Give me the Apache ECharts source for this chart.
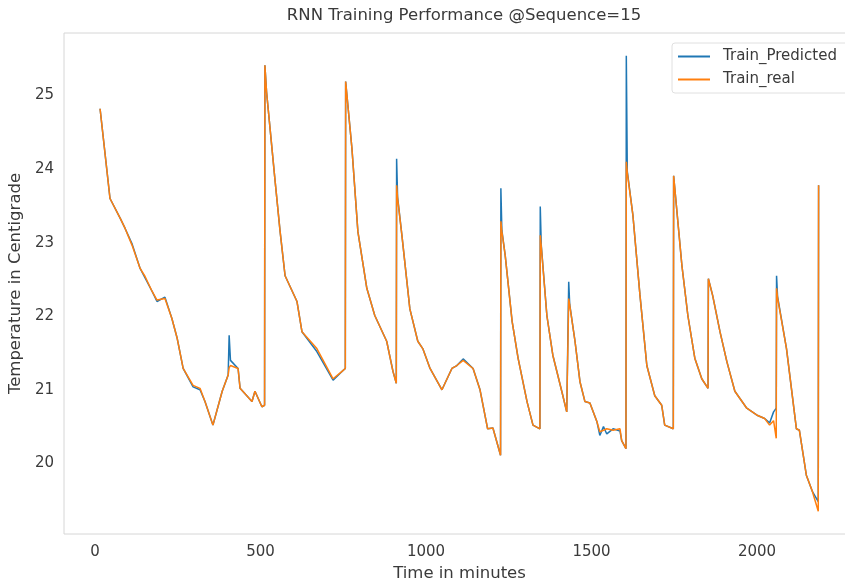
<!DOCTYPE html>
<html>
<head>
<meta charset="utf-8">
<script src="https://cdn.jsdelivr.net/npm/echarts@6/dist/echarts.min.js"></script>
<style>
  html, body { margin: 0; padding: 0; background: #fff; }
  #chart { width: 845px; height: 581px; }
</style>
</head>
<body>
<div id="chart"></div>
<script>
// minutes
const times = [15, 45, 76, 91, 112, 136, 151, 172, 187, 211, 232, 248, 266, 296, 317, 332, 356, 384, 402, 405, 409, 432, 438, 474, 483, 504, 512, 513, 518, 544, 559, 574, 610, 625, 670, 719, 746, 756, 757, 776, 794, 821, 845, 881, 900, 910, 911, 914, 927, 951, 975, 990, 1012, 1048, 1078, 1093, 1112, 1142, 1163, 1186, 1202, 1225, 1226, 1229, 1239, 1260, 1278, 1305, 1323, 1344, 1345, 1348, 1365, 1383, 1410, 1425, 1430, 1431, 1434, 1450, 1465, 1480, 1495, 1516, 1525, 1536, 1546, 1565, 1586, 1591, 1604, 1605, 1608, 1625, 1646, 1667, 1691, 1712, 1721, 1747, 1748, 1773, 1791, 1812, 1833, 1852, 1853, 1866, 1888, 1909, 1933, 1969, 2002, 2023, 2038, 2050, 2058, 2059, 2062, 2089, 2119, 2128, 2149, 2167, 2185, 2186]
const trainReal = [24.82, 23.60, 23.33, 23.19, 22.96, 22.65, 22.54, 22.34, 22.22, 22.24, 21.97, 21.70, 21.29, 21.06, 21.02, 20.84, 20.52, 20.98, 21.20, 21.30, 21.33, 21.29, 21.02, 20.84, 20.98, 20.77, 20.79, 25.41, 25.05, 23.83, 23.15, 22.55, 22.20, 21.79, 21.56, 21.15, 21.25, 21.29, 25.19, 24.28, 23.15, 22.38, 22.01, 21.66, 21.25, 21.09, 23.78, 23.60, 23.10, 22.10, 21.66, 21.56, 21.29, 21.00, 21.29, 21.33, 21.40, 21.29, 21.00, 20.47, 20.48, 20.11, 23.29, 23.15, 22.83, 21.93, 21.43, 20.84, 20.52, 20.47, 23.10, 22.95, 22.01, 21.47, 20.98, 20.70, 20.68, 22.24, 22.15, 21.66, 21.11, 20.84, 20.82, 20.57, 20.43, 20.45, 20.47, 20.45, 20.47, 20.31, 20.20, 24.10, 23.95, 23.37, 22.30, 21.33, 20.92, 20.79, 20.52, 20.47, 23.91, 22.69, 22.01, 21.43, 21.15, 21.02, 22.51, 22.28, 21.79, 21.38, 20.98, 20.75, 20.65, 20.61, 20.52, 20.58, 20.34, 22.38, 22.25, 21.56, 20.47, 20.45, 19.84, 19.62, 19.35, 23.78]
const trainPredicted = [24.82, 23.60, 23.33, 23.19, 22.98, 22.65, 22.52, 22.34, 22.20, 22.26, 21.97, 21.70, 21.29, 21.04, 21.00, 20.84, 20.52, 20.98, 21.20, 21.74, 21.40, 21.29, 21.02, 20.84, 20.98, 20.77, 20.79, 25.41, 25.05, 23.83, 23.15, 22.55, 22.20, 21.79, 21.52, 21.13, 21.25, 21.29, 25.19, 24.28, 23.15, 22.38, 22.01, 21.66, 21.25, 21.09, 24.14, 23.62, 23.10, 22.10, 21.66, 21.56, 21.29, 21.00, 21.29, 21.33, 21.42, 21.29, 21.00, 20.47, 20.48, 20.11, 23.74, 23.17, 22.83, 21.93, 21.43, 20.84, 20.52, 20.47, 23.49, 22.97, 22.01, 21.47, 20.98, 20.70, 20.68, 22.47, 22.16, 21.66, 21.11, 20.84, 20.82, 20.57, 20.38, 20.50, 20.40, 20.47, 20.44, 20.31, 20.20, 25.54, 23.97, 23.37, 22.30, 21.33, 20.92, 20.79, 20.52, 20.47, 23.91, 22.69, 22.01, 21.43, 21.15, 21.02, 22.51, 22.28, 21.79, 21.38, 20.98, 20.75, 20.65, 20.61, 20.55, 20.70, 20.75, 22.55, 22.27, 21.56, 20.47, 20.45, 19.84, 19.62, 19.48, 23.78]
const xTicks = [0, 500, 1000, 1500, 2000]
const yTicks = [20, 21, 22, 23, 24, 25]

const textColor = '#3a3a3a'
const font = 'DejaVu Sans'

function pairs (ys) {
  return times.map((t, i) => [t, ys[i]])
}

const chart = echarts.init(document.getElementById('chart'))
chart.setOption({
  animation: false,
  backgroundColor: '#fff',
  textStyle: { fontFamily: font, color: textColor },
  title: {
    text: 'RNN Training Performance @Sequence=15',
    left: 459,
    textAlign: 'center',
    top: 2,
    textStyle: { fontFamily: font, fontSize: 16.5, fontWeight: 'normal', color: textColor }
  },
  legend: {
    orient: 'vertical',
    left: 672,
    top: 43,
    padding: [6, 30, 6, 6],
    itemGap: 8,
    itemWidth: 32,
    itemHeight: 2,
    icon: 'rect',
    borderColor: '#e0e0e0',
    borderWidth: 1,
    borderRadius: 3,
    textStyle: { fontFamily: font, fontSize: 15, color: textColor, padding: [0, 0, 0, 8] },
    data: ['Train_Predicted', 'Train_real']
  },
  grid: {
    left: 64,
    top: 33,
    width: 791,
    height: 501,
    outerBoundsMode: 'none',
    containLabel: false,
    show: true,
    borderColor: '#d6d6d6',
    borderWidth: 1
  },
  xAxis: {
    type: 'value',
    min: -94,
    max: 2296,
    name: 'Time in minutes',
    nameLocation: 'middle',
    nameGap: 30,
    nameTextStyle: { fontFamily: font, fontSize: 16.5, color: textColor },
    axisLine: { show: false },
    axisTick: { show: false },
    splitLine: { show: false },
    axisLabel: {
      customValues: xTicks,
      margin: 11,
      fontSize: 15,
      color: textColor,
      fontFamily: font,
      formatter: v => String(v)
    }
  },
  yAxis: {
    type: 'value',
    min: 19.04,
    max: 25.85,
    name: 'Temperature in Centigrade',
    nameLocation: 'middle',
    nameGap: 35,
    nameTextStyle: { fontFamily: font, fontSize: 16.5, color: textColor },
    axisLine: { show: false },
    axisTick: { show: false },
    splitLine: { show: false },
    axisLabel: { customValues: yTicks, margin: 10, fontSize: 15, color: textColor, fontFamily: font }
  },
  series: [
    {
      name: 'Train_Predicted',
      type: 'line',
      showSymbol: false,
      color: '#1f77b4',
      lineStyle: { width: 1.5 },
      data: pairs(trainPredicted)
    },
    {
      name: 'Train_real',
      type: 'line',
      showSymbol: false,
      color: '#ff7f0e',
      lineStyle: { width: 1.5 },
      data: pairs(trainReal)
    }
  ]
})
</script>
</body>
</html>
